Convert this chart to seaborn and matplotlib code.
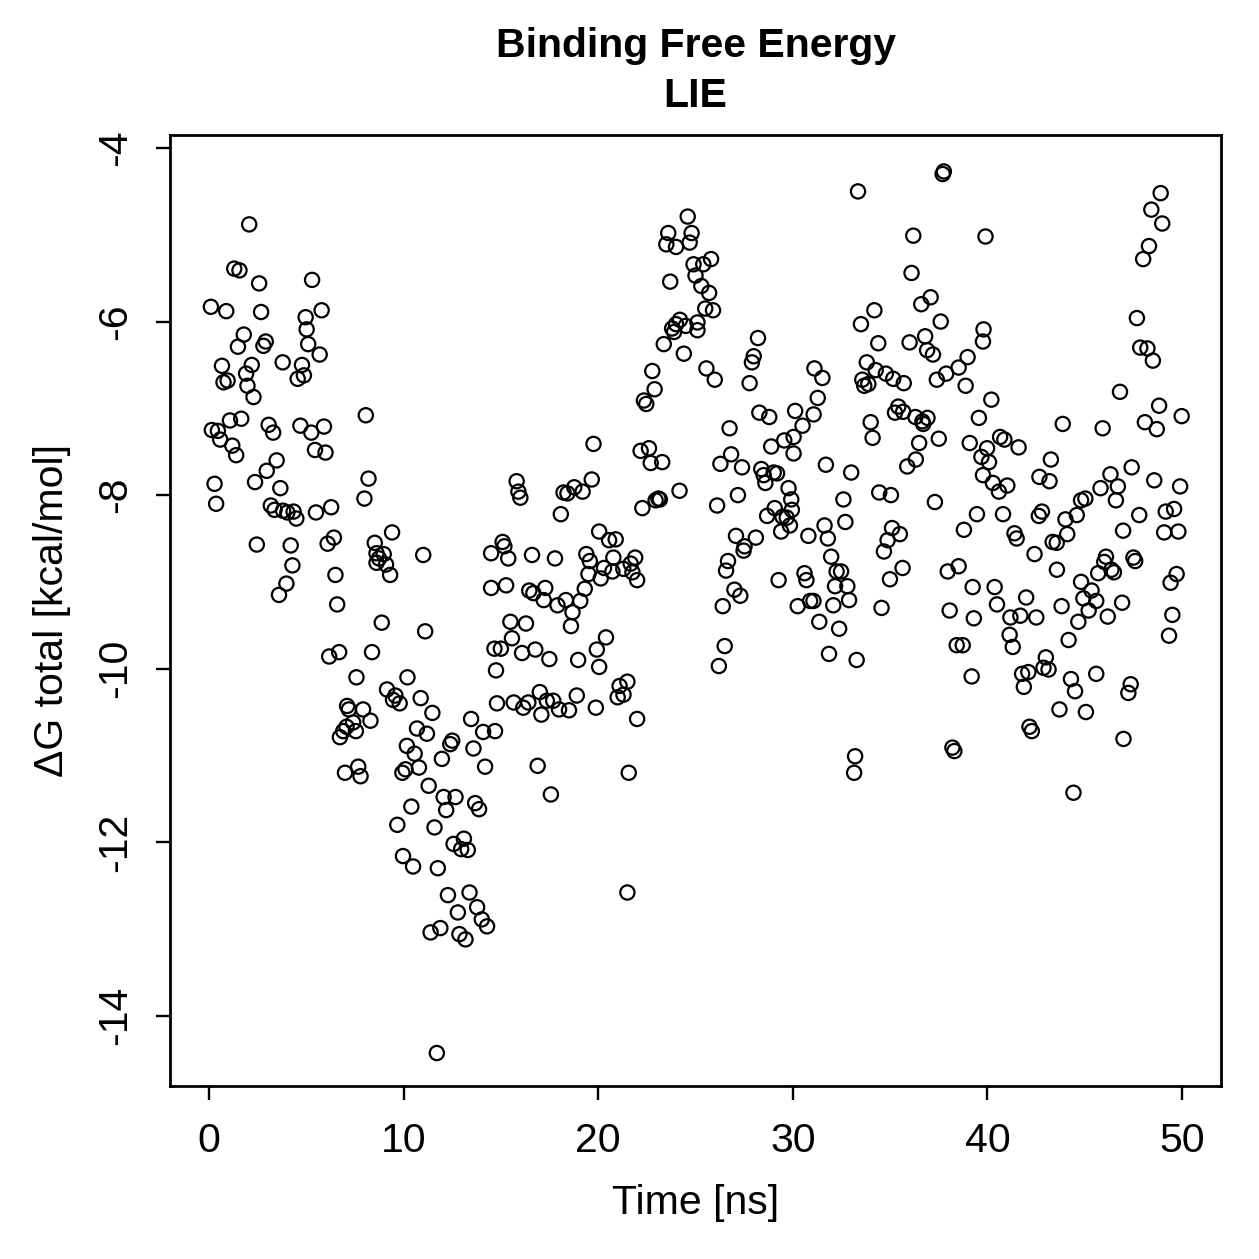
import matplotlib
matplotlib.use("Agg")
import matplotlib.pyplot as plt
import pandas as pd
import seaborn as sns

# ---- data (time in ns, dG in kcal/mol) ----
time_ns = [
    0.10, 0.15, 0.29, 0.37, 0.46, 0.58, 0.67, 0.75, 0.89, 0.96,
    1.08, 1.20, 1.30, 1.40, 1.49, 1.57, 1.66, 1.79, 1.91, 1.98,
    2.07, 2.20, 2.29, 2.37, 2.46, 2.58, 2.68, 2.80, 2.92, 2.97,
    3.07, 3.18, 3.30, 3.37, 3.48, 3.60, 3.67, 3.79, 3.81, 3.98,
    4.03, 4.20, 4.29, 4.35, 4.49, 4.56, 4.70, 4.78, 4.88, 4.97,
    5.02, 5.10, 5.26, 5.30, 5.45, 5.50, 5.69, 5.79, 5.91, 5.99,
    6.10, 6.18, 6.28, 6.42, 6.50, 6.59, 6.69, 6.73, 6.90, 6.99,
    7.07, 7.10, 7.19, 7.41, 7.55, 7.58, 7.67, 7.79, 7.92, 7.99,
    8.06, 8.20, 8.30, 8.38, 8.52, 8.61, 8.61, 8.74, 8.88, 8.98,
    9.10, 9.15, 9.31, 9.41, 9.46, 9.58, 9.68, 9.80, 9.94, 9.97,
    10.10, 10.17, 10.20, 10.40, 10.49, 10.57, 10.69, 10.79, 10.88, 11.01,
    11.11, 11.20, 11.29, 11.39, 11.48, 11.59, 11.71, 11.76, 11.89, 11.97,
    12.06, 12.19, 12.28, 12.40, 12.50, 12.57, 12.67, 12.79, 12.87, 12.96,
    13.10, 13.18, 13.30, 13.39, 13.47, 13.59, 13.68, 13.78, 13.88, 14.02,
    14.09, 14.19, 14.29, 14.50, 14.50, 14.67, 14.70, 14.75, 14.80,
    15.00, 15.09, 15.18, 15.27, 15.38, 15.49, 15.57, 15.66, 15.81, 15.90,
    16.00, 16.09, 16.15, 16.29, 16.41, 16.46, 16.60, 16.67, 16.77, 16.89,
    17.00, 17.08, 17.20, 17.28, 17.36, 17.49, 17.57, 17.69, 17.78, 17.91,
    17.99, 18.08, 18.22, 18.34, 18.42, 18.50, 18.60, 18.68, 18.77, 18.90,
    18.97, 19.08, 19.20, 19.31, 19.39, 19.50, 19.57, 19.67, 19.76, 19.88,
    19.93, 20.05,
    20.05, 20.13, 20.30, 20.40, 20.56, 20.73, 20.78, 20.90, 21.00, 21.10,
    21.29, 21.30, 21.50, 21.50, 21.57, 21.67, 21.76, 21.90, 22.00, 22.00,
    22.18, 22.27, 22.35, 22.47, 22.61, 22.70, 22.78, 22.90, 22.95, 23.09,
    23.17, 23.29, 23.37, 23.50, 23.60, 23.70, 23.80, 23.90, 24.00, 24.00,
    24.18, 24.20, 24.40, 24.50, 24.60, 24.70, 24.80, 24.90, 25.00,
    25.10, 25.10, 25.30, 25.40, 25.50, 25.56, 25.70, 25.80, 25.90, 25.99,
    26.11, 26.20, 26.28, 26.40, 26.50, 26.57, 26.67, 26.75, 26.83, 27.00,
    27.08, 27.18, 27.30, 27.39, 27.47, 27.52, 27.78, 27.90, 27.99, 28.10,
    28.21, 28.28, 28.38, 28.50, 28.59, 28.68, 28.79, 28.89, 29.02, 29.07,
    29.19, 29.27, 29.40, 29.47, 29.56, 29.69, 29.78, 29.85, 29.92, 29.95,
    30.04, 30.04, 30.12, 30.25, 30.50, 30.60, 30.70, 30.80, 30.89, 31.06,
    31.07, 31.11, 31.28, 31.36, 31.52, 31.63, 31.70, 31.80, 31.86, 31.97,
    32.08, 32.17, 32.25, 32.38, 32.48, 32.60, 32.70, 32.80, 32.89, 33.00,
    33.15, 33.20, 33.28, 33.35, 33.50, 33.57, 33.67, 33.80, 33.88, 34.00,
    34.10, 34.19, 34.26, 34.39, 34.44, 34.56, 34.68, 34.78, 34.87, 34.99,
    35.04, 35.10, 35.16, 35.25, 35.42, 35.50, 35.64, 35.67, 35.70, 35.88,
    36.00, 36.10, 36.19, 36.30, 36.32, 36.49, 36.60, 36.66, 36.70, 36.80,
    36.90, 36.92, 37.08, 37.20, 37.30, 37.40, 37.50, 37.60, 37.70, 37.76,
    37.88, 37.96, 38.06, 38.20, 38.30, 38.42, 38.52, 38.52, 38.73, 38.79,
    38.88, 38.98, 39.09, 39.19, 39.24, 39.30, 39.46, 39.56, 39.69, 39.77,
    39.77, 39.80, 39.90, 39.98,
    40.08, 40.20, 40.28, 40.37, 40.49, 40.59, 40.65, 40.80, 40.87, 41.02,
    41.14, 41.18, 41.30, 41.39, 41.50, 41.60, 41.69, 41.78, 41.87, 41.99,
    42.10, 42.16, 42.28, 42.42, 42.51, 42.64, 42.67, 42.80, 42.88, 43.00,
    43.14, 43.19, 43.26, 43.35, 43.56, 43.57, 43.70, 43.81, 43.87, 44.01,
    44.10, 44.17, 44.29, 44.42, 44.50, 44.59, 44.67, 44.81, 44.81, 44.93,
    45.03, 45.06, 45.20, 45.35, 45.59, 45.59, 45.69, 45.81, 45.92, 46.00,
    46.09, 46.18, 46.32, 46.37, 46.50, 46.60, 46.70, 46.81, 46.92, 46.97,
    46.99, 47.24, 47.36, 47.41, 47.50, 47.59, 47.68, 47.80, 47.85, 48.00,
    48.09, 48.22, 48.30, 48.42, 48.50, 48.57, 48.70, 48.82, 48.90, 48.98,
    49.08, 49.16, 49.33, 49.41, 49.50, 49.59, 49.72, 49.81, 49.90, 49.98,
]

dg_total = [
    -5.83, -7.25, -7.87, -8.10, -7.26, -7.36, -6.51, -6.70, -5.88, -6.68,
    -7.14, -7.43, -5.39, -7.54, -6.29, -5.41, -7.12, -6.15, -6.60, -6.74,
    -4.88, -6.50, -6.87, -7.85, -8.57, -5.56, -5.89, -6.28, -6.23, -7.72,
    -7.19, -8.12, -7.28, -8.17, -7.60, -9.15, -7.92, -6.47, -8.18, -9.02,
    -8.20, -8.58, -8.81, -8.19, -8.27, -6.66, -7.20, -6.50, -6.62, -5.95,
    -6.09, -6.26, -7.28, -5.52, -7.48, -8.20, -6.38, -5.87, -7.21, -7.51,
    -8.56, -9.86, -8.14, -8.49, -8.92, -9.26, -9.81, -10.79, -10.72, -11.20,
    -10.67, -10.43, -10.47, -10.62, -10.72, -10.10, -11.13, -11.24, -10.47, -8.04,
    -7.08, -7.81, -10.60, -9.81, -8.55, -8.67, -8.78, -8.73, -9.47, -8.68,
    -8.80, -10.24, -8.92, -8.43, -10.36, -10.31, -11.80, -10.40, -11.20, -12.16,
    -11.16, -10.89, -10.10, -11.59, -12.28, -10.98, -10.69, -11.14, -10.34, -8.69,
    -9.57, -10.75, -11.35, -13.04, -10.51, -11.83, -14.43, -12.30, -12.99, -11.04,
    -11.48, -11.63, -12.61, -10.87, -10.83, -12.02, -11.48, -12.81, -13.06, -12.08,
    -11.96, -13.12, -12.09, -12.58, -10.58, -10.92, -11.55, -12.75, -11.62, -12.89,
    -10.73, -11.13, -12.97, -8.67, -9.07, -9.77, -10.72, -10.02, -10.40,
    -9.77, -8.54, -8.59, -9.04, -8.73, -9.46, -9.65, -10.39, -7.84, -7.96,
    -8.03, -9.82, -10.45, -9.48, -10.39, -9.10, -8.69, -9.13, -9.78, -11.12,
    -10.27, -10.53, -9.21, -9.07, -10.37, -9.89, -11.45, -10.37, -8.73, -9.27,
    -10.47, -8.22, -7.97, -9.21, -7.98, -10.48, -9.51, -9.35, -7.91, -10.31,
    -9.90, -9.22, -7.96, -9.08, -8.68, -8.91, -8.76, -7.82, -7.41, -10.45,
    -9.78, -8.42,
    -9.98, -8.96, -8.84, -9.64, -8.52, -8.88, -8.72, -8.51, -10.33, -10.20,
    -8.85, -10.30, -10.15, -12.58, -11.20, -8.79, -8.89, -8.72, -8.98, -10.58,
    -7.49, -8.15, -6.91, -6.95, -7.46, -7.63, -6.57, -6.78, -8.06, -8.04,
    -8.05, -7.62, -6.26, -5.11, -4.98, -5.54, -6.08, -6.12, -5.14, -6.03,
    -7.95, -5.98, -6.37, -6.05, -4.79, -5.09, -4.98, -5.34, -5.47,
    -6.01, -6.10, -5.59, -5.34, -5.85, -6.54, -5.67, -5.28, -5.87, -6.67,
    -8.12, -9.97, -7.64, -9.28, -9.74, -8.87, -8.76, -7.23, -7.53, -9.09,
    -8.47, -8.00, -9.16, -7.68, -8.64, -8.59, -6.71, -6.47, -6.40, -8.49,
    -6.19, -7.05, -7.70, -7.77, -7.86, -8.24, -7.10, -7.44, -7.74, -8.15,
    -7.75, -8.98, -8.42, -8.25, -7.37, -8.26, -7.92, -8.35, -8.05, -8.17,
    -7.33, -7.52, -7.03, -9.28, -7.20, -8.90, -8.98, -8.47, -9.22, -9.22,
    -7.07, -6.54, -6.88, -9.46, -6.65, -8.35, -7.65, -8.50, -9.83, -8.71,
    -9.27, -9.05, -8.88, -9.54, -8.88, -8.05, -8.31, -9.05, -9.21, -7.74,
    -11.20, -11.01, -9.90, -4.50, -6.03, -6.67, -6.74, -6.47, -6.72, -7.16,
    -7.34, -5.87, -6.56, -6.25, -7.97, -9.30, -8.65, -6.60, -8.52, -8.97,
    -8.00, -8.38, -6.66, -7.05, -6.98, -8.45, -8.84, -7.04, -6.71, -7.67,
    -6.24, -5.44, -5.01, -7.10, -7.59, -7.40, -5.80, -7.15, -7.18, -6.17,
    -6.33, -7.11, -5.72, -6.38, -8.08, -6.67, -7.35, -6.00, -4.30, -4.27,
    -6.60, -8.88, -9.33, -10.91, -10.95, -9.73, -6.53, -8.82, -9.73, -8.40,
    -6.74, -6.41, -7.40, -10.09, -9.06, -9.42, -8.22, -7.11, -7.56, -7.77,
    -6.23, -6.09, -5.02, -7.46,
    -7.62, -6.90, -7.86, -9.06, -9.26, -7.96, -7.33, -8.22, -7.36, -7.89,
    -9.61, -9.41, -9.75, -8.44, -8.50, -7.45, -9.39, -10.06, -10.21, -9.18,
    -10.04, -10.67, -10.72, -8.68, -9.41, -8.24, -7.79, -8.19, -9.99, -9.87,
    -10.01, -7.84, -7.59, -8.54, -8.55, -8.86, -10.47, -9.28, -7.18, -8.28,
    -8.45, -9.67, -10.12, -11.43, -10.26, -8.23, -9.46, -9.00, -8.06, -9.19,
    -8.04, -10.50, -9.33, -9.10, -9.22, -10.06, -8.90, -7.92, -7.23, -8.77,
    -8.71, -9.40, -7.76, -8.86, -8.89, -8.06, -7.90, -6.81, -9.24, -8.41,
    -10.81, -10.28, -10.18, -7.68, -8.72, -8.76, -5.96, -8.23, -6.30, -5.28,
    -7.16, -6.31, -5.13, -4.71, -6.45, -7.83, -7.24, -6.97, -4.52, -4.87,
    -8.43, -8.19, -9.62, -9.01, -9.38, -8.16, -8.91, -8.42, -7.90, -7.09,
]

x_ticks = [0, 10, 20, 30, 40, 50]
y_ticks = [-14, -12, -10, -8, -6, -4]
y_tick_labels = ["-14", "-12", "-10", "-8", "-6", "-4"]
title_line1 = "Binding Free Energy"
title_line2 = "LIE"
x_label = "Time [ns]"
y_label = "\u0394G total [kcal/mol]"

# ---- style ----
sns.set_style("ticks")
plt.rcParams["font.family"] = ["Liberation Sans", "DejaVu Sans"]
plt.rcParams["axes.unicode_minus"] = False

W = H = 1259
FS = 29.5

fig = plt.figure(figsize=(W / 100, H / 100), dpi=100)
fig.patch.set_facecolor("white")
ax = fig.add_axes([170 / W, 1 - 1086 / H, (1221 - 170) / W, (1086 - 135) / H])
ax.set_facecolor("white")

df = pd.DataFrame({"Time": time_ns, "dG": dg_total})
sns.scatterplot(data=df, x="Time", y="dG", ax=ax, marker="o", s=105,
                color="black", edgecolor="black", legend=False)
for coll in ax.collections:
    coll.set_facecolor("none")
    coll.set_edgecolor("black")
    coll.set_linewidth(1.6)
    coll.set_sizes([105])

ax.set_xlim(-2, 52)
ax.set_ylim(-14.81, -3.85)
ax.set_xticks(x_ticks)
ax.set_xticklabels([str(t) for t in x_ticks])
ax.set_yticks(y_ticks)
ax.set_yticklabels(y_tick_labels)
for lbl in ax.get_yticklabels():
    lbl.set_rotation(90)
    lbl.set_va("center")

ax.tick_params(axis="both", direction="out", length=10, width=1.7,
               colors="black", labelsize=FS, pad=16)

for sp in ax.spines.values():
    sp.set_visible(True)
    sp.set_linewidth(2.0)
    sp.set_color("black")

ax.set_xlabel(x_label, fontsize=FS, color="black")
ax.set_ylabel(y_label, fontsize=FS, color="black")
ax.xaxis.set_label_coords(0.5, -(1203 - 1086) / (1086 - 135))
ax.xaxis.label.set_va("center")
ax.yaxis.set_label_coords(-(170 - 52) / (1221 - 170), 0.5)
ax.yaxis.label.set_va("center")

fig.text(0.5 * (170 + 1221) / W, 1 - 46 / H, title_line1, ha="center", va="center",
         fontsize=FS, fontweight="bold", color="black")
fig.text(0.5 * (170 + 1221) / W, 1 - 96 / H, title_line2, ha="center", va="center",
         fontsize=FS, fontweight="bold", color="black")

fig.savefig("out.png", dpi=100, facecolor="white")
